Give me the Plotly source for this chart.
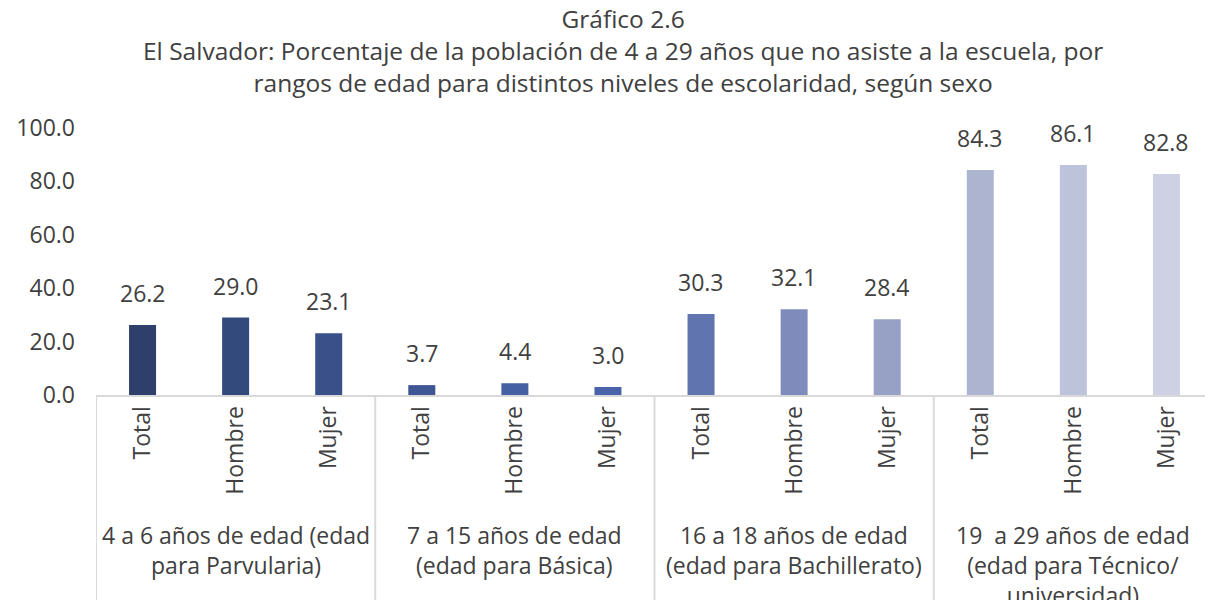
import plotly.graph_objects as go

group_lines = [["4 a 6 años de edad (edad", "para Parvularia)"],
               ["7 a 15 años de edad", "(edad para Básica)"],
               ["16 a 18 años de edad", "(edad para Bachillerato)"],
               ["19  a 29 años de edad", "(edad para Técnico/", "universidad)"]]
sexes = ["Total", "Hombre", "Mujer"]
values = [26.2, 29.0, 23.1, 3.7, 4.4, 3.0, 30.3, 32.1, 28.4, 84.3, 86.1, 82.8]
colors = ["#2E3F6B", "#334A7C", "#3A5088", "#3F5594", "#4560A3", "#4A62A8",
          "#6074AF", "#7F8CBB", "#97A1C6", "#ADB4D0", "#BCC3DA", "#CDD1E3"]
title_lines = ["Gráfico 2.6",
               "El Salvador: Porcentaje de la población de 4 a 29 años que no asiste a la escuela, por",
               "rangos de edad para distintos niveles de escolaridad, según sexo"]

FONT = "Open Sans"
TXT = "#404040"
FS = 23

xs = list(range(len(values)))
ticklabels = [sexes[i % 3] for i in xs]

# page has an 8px body margin; compensate so the plot lands where the reference has it
OFF = 8
L, T = 96 - OFF, 128 - OFF
W, H = 1213 - OFF, 600 - OFF
H_PLOT = 267
B = H - T - H_PLOT
W_PLOT = W - L
AXIS_Y = 395  # page pixel row of the x axis


def py(page_y):
    return (AXIS_Y - page_y) / H_PLOT


fig = go.Figure()
fig.add_trace(go.Bar(
    x=xs, y=values, marker=dict(color=colors, line=dict(width=0)),
    width=0.29, showlegend=False, hoverinfo="x+y",
))

shapes = []
for b in [-0.5, 2.5, 5.5, 8.5]:
    shapes.append(dict(type="line", xref="x", yref="paper", x0=b, x1=b,
                       y0=0, y1=-B / H_PLOT - 0.05, line=dict(color="#D9D9D9", width=2)))

annotations = []
for x, v in zip(xs, values):
    annotations.append(dict(x=x, y=v, xref="x", yref="y", text=f"{v:.1f}",
                            showarrow=False, yanchor="bottom", yshift=14,
                            font=dict(family=FONT, size=FS, color=TXT)))
for gi, lines in enumerate(group_lines):
    annotations.append(dict(x=gi * 3 + 1, y=py(517), xref="x", yref="paper",
                            text="<br>".join(lines), showarrow=False,
                            yanchor="top", xanchor="center",
                            font=dict(family=FONT, size=FS, color=TXT)))
annotations.append(dict(x=(623 - 96) / W_PLOT, y=py(51), xref="paper", yref="paper",
                        text="<br>".join(title_lines), showarrow=False,
                        xanchor="center", yanchor="middle",
                        font=dict(family=FONT, size=24.5, color=TXT)))

fig.update_layout(
    width=W, height=H,
    margin=dict(l=L, r=0, t=T, b=B),
    plot_bgcolor="white", paper_bgcolor="white",
    xaxis=dict(tickmode="array", tickvals=xs, ticktext=ticklabels, tickangle=-90,
               range=[-0.5, 11.5], showline=True, linecolor="#D9D9D9", linewidth=2,
               ticks="", showgrid=False, zeroline=False, automargin=False,
               tickfont=dict(family=FONT, size=FS, color=TXT)),
    yaxis=dict(range=[0, 100], tickvals=[0, 20, 40, 60, 80, 100], tickformat=".1f",
               showgrid=False, zeroline=False, showline=False, ticks="",
               automargin=False, ticklabelstandoff=20,
               tickfont=dict(family=FONT, size=FS, color=TXT)),
    shapes=shapes, annotations=annotations, bargap=0.7,
)

fig.write_html("out.html")
